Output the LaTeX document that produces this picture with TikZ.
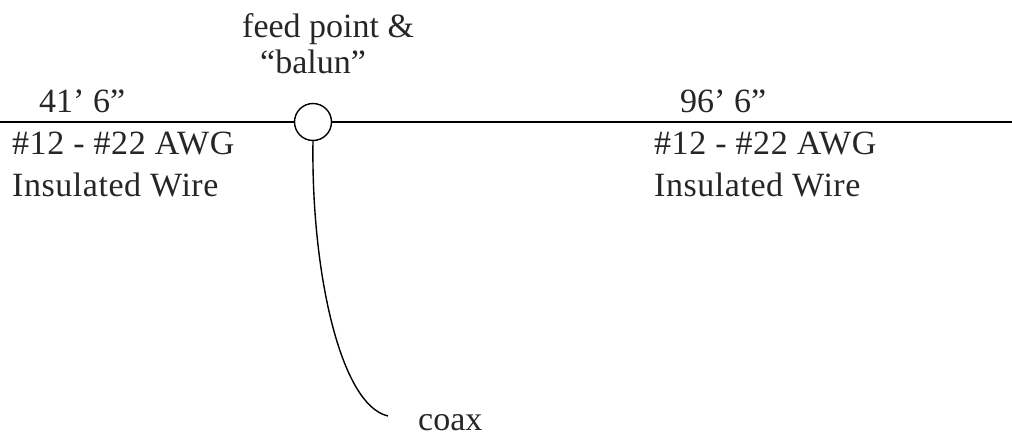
\documentclass[tikz,border=0pt]{standalone}
\usepackage{fontspec}
\setmainfont{Liberation Serif}
\newfontfamily\wirefont[LetterSpace=1.6]{Liberation Serif}
\tikzset{lbl/.style={inner sep=0pt,anchor=base west,font=\fontsize{34}{38}\selectfont,text=black!85},
wlbl/.style={inner sep=0pt,anchor=base west,font=\wirefont\fontsize{34}{38}\selectfont,text=black!85},
wire/.style={line width=1.4pt,black}}
\begin{document}
\begin{tikzpicture}[x=1pt,y=-1pt]
\useasboundingbox (0,0) rectangle (1012,436);
\node[draw,circle,minimum size=37pt,inner sep=0pt,line width=1.4pt] (balun) at (313,122) {};
\coordinate (wl) at (0,122);
\coordinate (wr) at (1012,122);
\coordinate (cend) at (388,416);
\draw[wire] (wl) -- (balun.west);
\draw[wire] (balun.east) -- (wr);
\draw[wire] (balun.south) .. controls (311,270) and (340,405) .. (cend);
\node[lbl] (t1) at (242,38) {feed point \&};
\node[lbl] (t2) at (260,74) {“balun”};
\node[lbl] (t3) at (39,112) {41’ 6”};
\node[wlbl] (t4) at (12,154) {\#12 - \#22 AWG};
\node[wlbl] (t5) at (12,196) {Insulated Wire};
\node[lbl] (t6) at (680,112) {96’ 6”};
\node[wlbl] (t7) at (654,154) {\#12 - \#22 AWG};
\node[wlbl] (t8) at (654,196) {Insulated Wire};
\node[lbl] (t9) at (418,430) {coax};
\end{tikzpicture}
\end{document}
